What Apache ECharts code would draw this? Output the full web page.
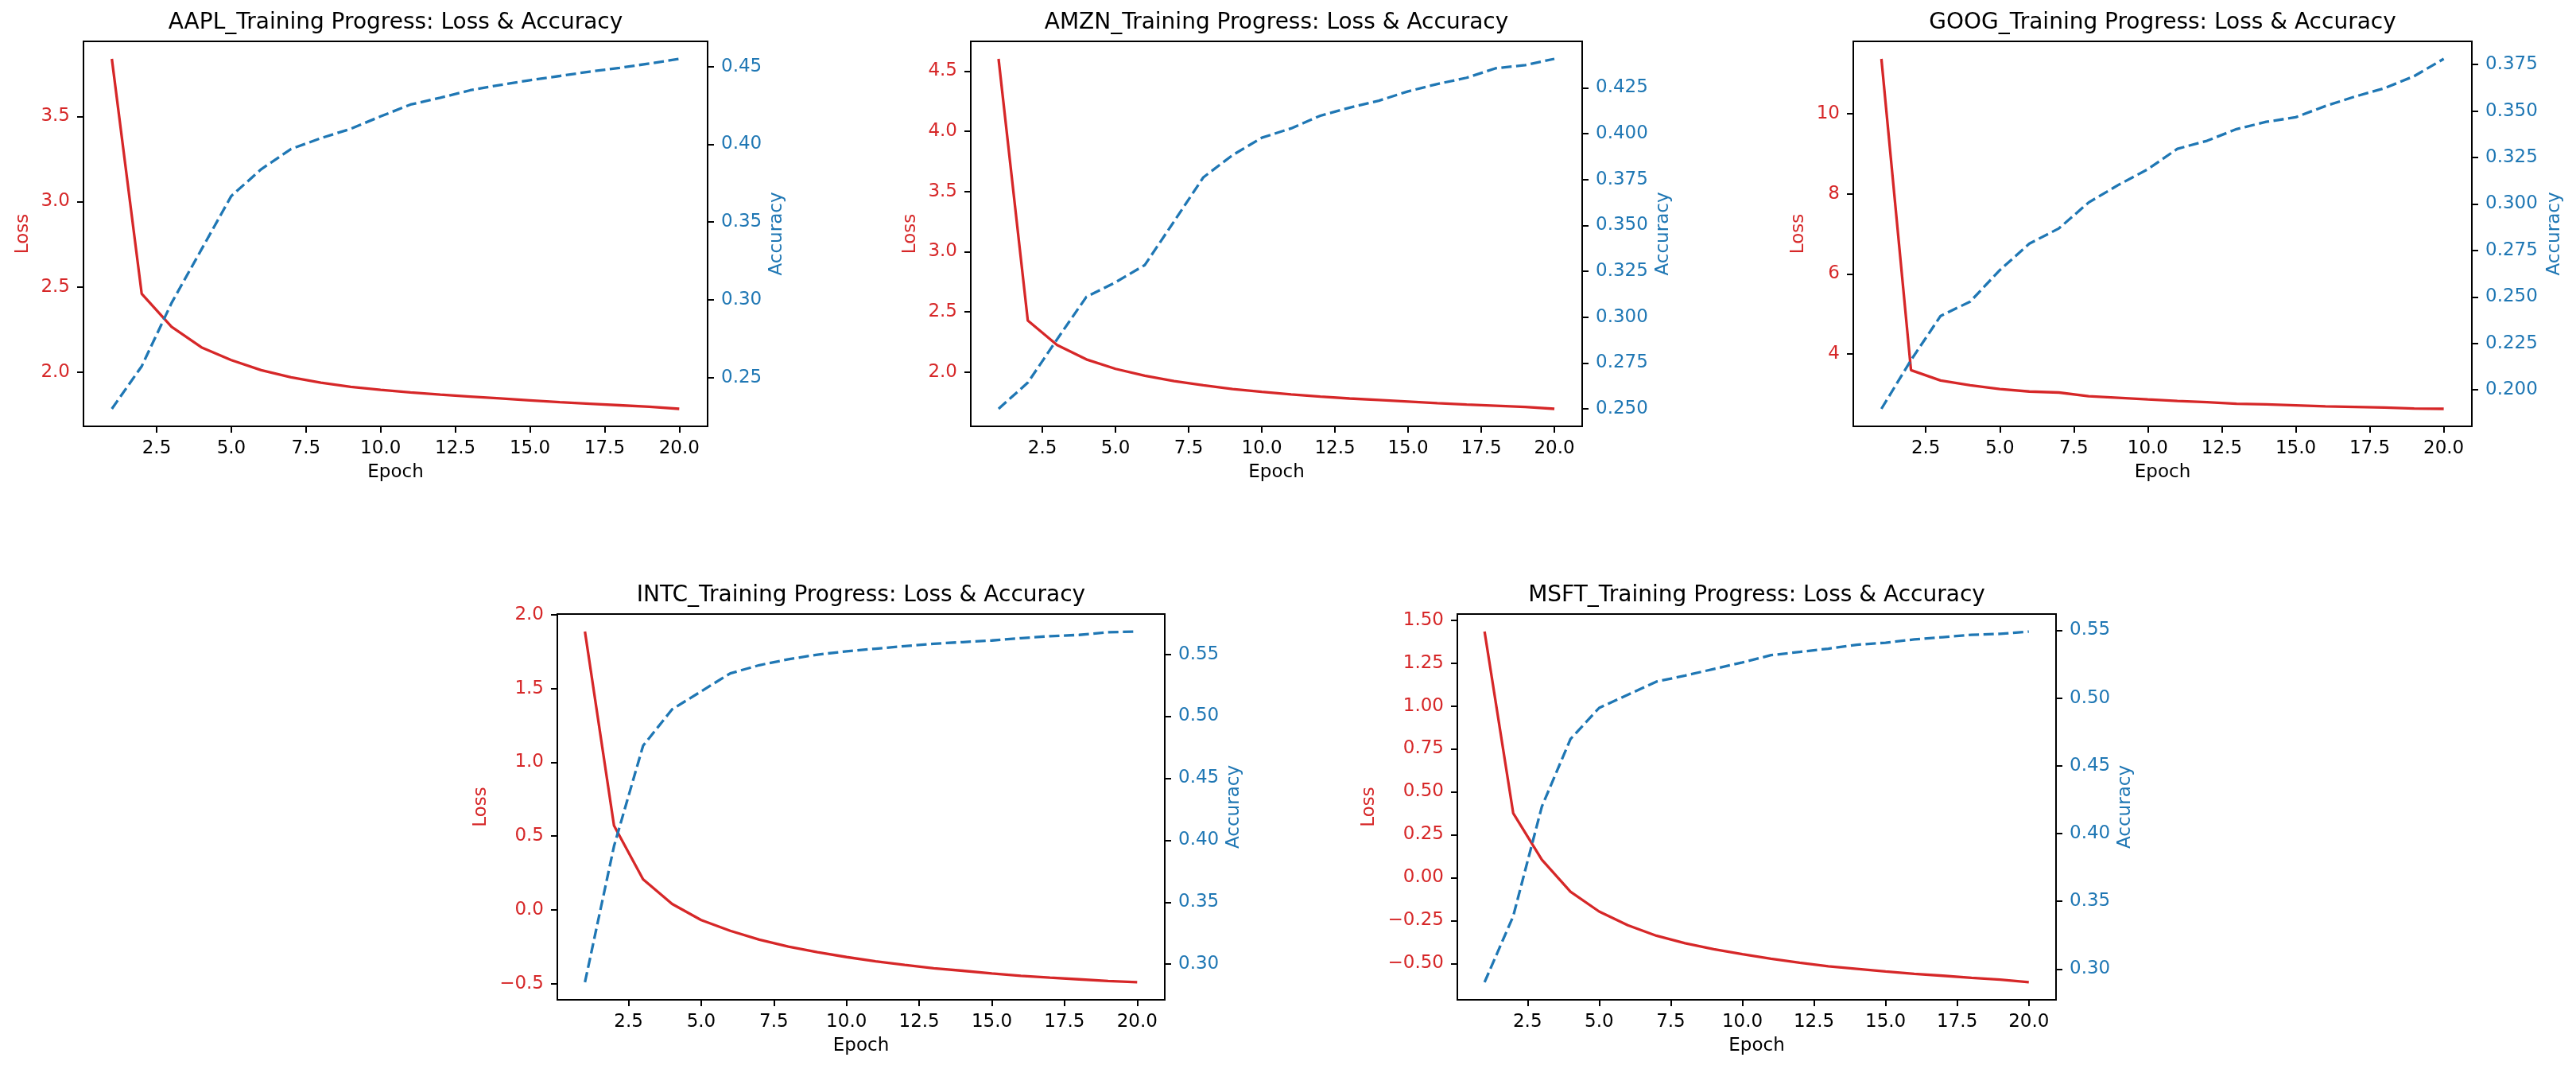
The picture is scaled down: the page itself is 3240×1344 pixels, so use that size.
<!DOCTYPE html>
<html>
<head>
<meta charset="utf-8">
<script src="https://cdn.jsdelivr.net/npm/echarts@6/dist/echarts.min.js"></script>
<style>
  html, body { margin: 0; padding: 0; background: #fff; }
  #main { width: 3240px; height: 1344px; }
</style>
</head>
<body>
<div id="main"></div>
<script>
var epochs = [1, 2, 3, 4, 5, 6, 7, 8, 9, 10, 11, 12, 13, 14, 15, 16, 17, 18, 19, 20];
var epochTicks = [2.5, 5, 7.5, 10, 12.5, 15, 17.5, 20];

var aaplLoss = [3.838, 2.459, 2.265, 2.145, 2.070, 2.011, 1.969, 1.937, 1.913, 1.895, 1.880, 1.867, 1.856, 1.845, 1.834, 1.823, 1.814, 1.805, 1.796, 1.784];
var aaplAcc = [0.2299, 0.2573, 0.298, 0.3324, 0.3668, 0.384, 0.397, 0.404, 0.410, 0.418, 0.4256, 0.430, 0.4348, 0.4382, 0.4413, 0.444, 0.4468, 0.4492, 0.452, 0.455];
var aaplLossTicks = [2.0, 2.5, 3.0, 3.5];
var aaplAccTicks = [0.25, 0.30, 0.35, 0.40, 0.45];

var amznLoss = [4.602, 2.427, 2.225, 2.105, 2.026, 1.969, 1.924, 1.890, 1.859, 1.835, 1.814, 1.796, 1.780, 1.767, 1.754, 1.741, 1.730, 1.720, 1.710, 1.694];
var amznAcc = [0.250, 0.2643, 0.2879, 0.311, 0.319, 0.3284, 0.3522, 0.3762, 0.3883, 0.3978, 0.4029, 0.4098, 0.4142, 0.418, 0.4231, 0.4271, 0.4305, 0.4357, 0.4374, 0.4408];
var amznLossTicks = [2.0, 2.5, 3.0, 3.5, 4.0, 4.5];
var amznAccTicks = [0.250, 0.275, 0.300, 0.325, 0.350, 0.375, 0.400, 0.425];

var googLoss = [11.378, 3.59, 3.33, 3.21, 3.118, 3.055, 3.03, 2.937, 2.898, 2.858, 2.82, 2.787, 2.748, 2.732, 2.71, 2.685, 2.67, 2.654, 2.63, 2.622];
var googAcc = [0.1898, 0.216, 0.2398, 0.2475, 0.2644, 0.2787, 0.2869, 0.3008, 0.3102, 0.3187, 0.3297, 0.334, 0.3403, 0.3442, 0.3467, 0.3527, 0.3578, 0.3623, 0.3688, 0.3781];
var googLossTicks = [4, 6, 8, 10];
var googAccTicks = [0.200, 0.225, 0.250, 0.275, 0.300, 0.325, 0.350, 0.375];

var intcLoss = [1.887, 0.571, 0.207, 0.04, -0.069, -0.142, -0.202, -0.249, -0.287, -0.32, -0.349, -0.373, -0.396, -0.413, -0.431, -0.447, -0.46, -0.471, -0.482, -0.491];
var intcAcc = [0.2854, 0.3952, 0.4762, 0.5056, 0.5201, 0.5346, 0.5412, 0.546, 0.5497, 0.5524, 0.5545, 0.5566, 0.5585, 0.5598, 0.5611, 0.563, 0.5646, 0.5656, 0.5678, 0.5683];
var intcLossTicks = [-0.5, 0.0, 0.5, 1.0, 1.5, 2.0];
var intcAccTicks = [0.30, 0.35, 0.40, 0.45, 0.50, 0.55];

var msftLoss = [1.433, 0.376, 0.105, -0.082, -0.197, -0.277, -0.338, -0.382, -0.416, -0.445, -0.472, -0.495, -0.516, -0.531, -0.546, -0.56, -0.571, -0.583, -0.594, -0.609];
var msftAcc = [0.2903, 0.339, 0.4199, 0.4697, 0.4927, 0.5024, 0.5121, 0.5165, 0.5214, 0.5262, 0.5316, 0.534, 0.5364, 0.5393, 0.5408, 0.5432, 0.5449, 0.5466, 0.5473, 0.549];
var msftLossTicks = [-0.50, -0.25, 0.00, 0.25, 0.50, 0.75, 1.00, 1.25, 1.50];
var msftAccTicks = [0.30, 0.35, 0.40, 0.45, 0.50, 0.55];

// panel layout (pixels) - kept apart from the data
var panels = [
  { name: 'AAPL', loss: aaplLoss, acc: aaplAcc, lossTicks: aaplLossTicks, accTicks: aaplAccTicks, lossDec: 1, accDec: 2,
    left: 105, width: 785, top: 52, height: 484, lossGap: 64, accGap: 76 },
  { name: 'AMZN', loss: amznLoss, acc: amznAcc, lossTicks: amznLossTicks, accTicks: amznAccTicks, lossDec: 1, accDec: 3,
    left: 1221, width: 769, top: 52, height: 484, lossGap: 64, accGap: 91 },
  { name: 'GOOG', loss: googLoss, acc: googAcc, lossTicks: googLossTicks, accTicks: googAccTicks, lossDec: 0, accDec: 3,
    left: 2331, width: 778, top: 52, height: 484, lossGap: 57, accGap: 93 },
  { name: 'INTC', loss: intcLoss, acc: intcAcc, lossTicks: intcLossTicks, accTicks: intcAccTicks, lossDec: 1, accDec: 2,
    left: 701, width: 764, top: 772, height: 485, lossGap: 84, accGap: 76 },
  { name: 'MSFT', loss: msftLoss, acc: msftAcc, lossTicks: msftLossTicks, accTicks: msftAccTicks, lossDec: 2, accDec: 2,
    left: 1833, width: 753, top: 772, height: 485, lossGap: 99, accGap: 76 }
];

var RED = '#d62728';
var BLUE = '#1f77b4';
var FONT = 'DejaVu Sans';

function fmt(dec) {
  return function (v) { return v.toFixed(dec).replace('-', '\u2212'); };
}

// matplotlib-style autoscale: data range plus 5% each side
function padRange(arr) {
  var lo = Math.min.apply(null, arr), hi = Math.max.apply(null, arr);
  var m = (hi - lo) * 0.05;
  return [lo - m, hi + m];
}

function pairs(ys) {
  return epochs.map(function (e, i) { return [e, ys[i]]; });
}

var tickStyle = { show: true, inside: false, length: 8, lineStyle: { color: '#000', width: 2 } };

var titles = [], grids = [], xAxes = [], yAxes = [], series = [];
var er = padRange(epochs);

panels.forEach(function (p, i) {
  titles.push({
    text: p.name + '_Training Progress: Loss & Accuracy',
    left: p.left + p.width / 2,
    top: p.top - 37,
    textAlign: 'center',
    padding: 0,
    textStyle: { fontFamily: FONT, fontSize: 28, fontWeight: 'normal', color: '#000' }
  });
  grids.push({
    left: p.left, top: p.top, width: p.width, height: p.height,
    show: true, borderColor: '#000', borderWidth: 2, backgroundColor: 'transparent'
  });
  xAxes.push({
    type: 'value', gridIndex: i, position: 'bottom', min: er[0], max: er[1],
    name: 'Epoch', nameLocation: 'middle', nameGap: 47,
    nameTextStyle: { fontFamily: FONT, fontSize: 23, color: '#000' },
    axisLine: { show: false, onZero: false },
    splitLine: { show: false },
    axisTick: Object.assign({ customValues: epochTicks }, tickStyle),
    axisLabel: { customValues: epochTicks, formatter: fmt(1), margin: 17,
      fontFamily: FONT, fontSize: 23, color: '#000' }
  });
  var lr = padRange(p.loss), ar = padRange(p.acc);
  yAxes.push({
    type: 'value', gridIndex: i, position: 'left', min: lr[0], max: lr[1],
    name: 'Loss', nameLocation: 'middle', nameGap: p.lossGap, nameRotate: 90,
    nameTextStyle: { fontFamily: FONT, fontSize: 23, color: RED },
    axisLine: { show: false, onZero: false },
    splitLine: { show: false },
    axisTick: Object.assign({ customValues: p.lossTicks }, tickStyle),
    axisLabel: { customValues: p.lossTicks, formatter: fmt(p.lossDec), margin: 17,
      fontFamily: FONT, fontSize: 23, color: RED }
  });
  yAxes.push({
    type: 'value', gridIndex: i, position: 'right', min: ar[0], max: ar[1],
    name: 'Accuracy', nameLocation: 'middle', nameGap: p.accGap, nameRotate: 90,
    nameTextStyle: { fontFamily: FONT, fontSize: 23, color: BLUE },
    axisLine: { show: false, onZero: false },
    splitLine: { show: false },
    axisTick: Object.assign({ customValues: p.accTicks }, tickStyle),
    axisLabel: { customValues: p.accTicks, formatter: fmt(p.accDec), margin: 17,
      fontFamily: FONT, fontSize: 23, color: BLUE }
  });
  series.push({
    name: p.name + ' Loss', type: 'line', xAxisIndex: i, yAxisIndex: 2 * i,
    data: pairs(p.loss), symbol: 'none', showSymbol: false,
    lineStyle: { color: RED, width: 3.3 }
  });
  series.push({
    name: p.name + ' Accuracy', type: 'line', xAxisIndex: i, yAxisIndex: 2 * i + 1,
    data: pairs(p.acc), symbol: 'none', showSymbol: false,
    lineStyle: { color: BLUE, width: 3.3, type: [13, 5.6] }
  });
});

var chart = echarts.init(document.getElementById('main'));
chart.setOption({
  animation: false,
  backgroundColor: '#fff',
  textStyle: { fontFamily: FONT },
  title: titles,
  grid: grids,
  xAxis: xAxes,
  yAxis: yAxes,
  series: series
});
window.addEventListener('resize', chart.resize);
</script>
</body>
</html>
